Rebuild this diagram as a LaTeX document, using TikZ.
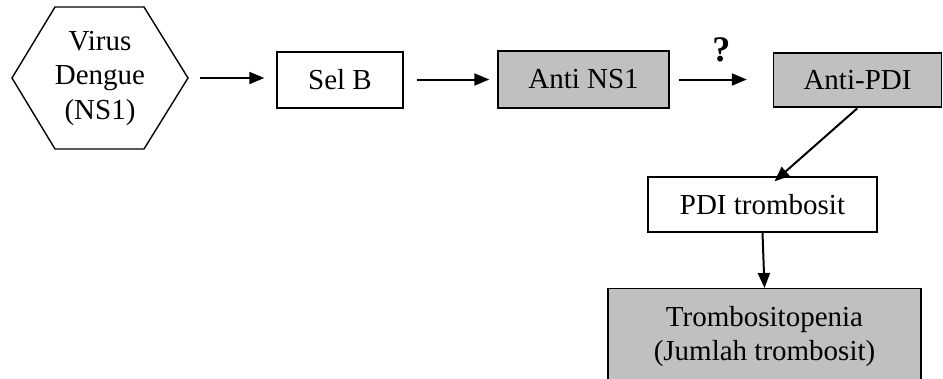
\documentclass[tikz,border=0pt]{standalone}
\usepackage{fontspec}
\setmainfont{Liberation Serif}
\usetikzlibrary{arrows.meta}
\definecolor{boxgray}{RGB}{192,192,192}
\begin{document}
\begin{tikzpicture}[x=1pt,y=-1pt,
  txt/.style={font=\fontsize{29}{34.5}\selectfont, align=center, inner sep=0pt},
  plainbox/.style={txt, draw, line width=1.4pt, fill=white},
  graybox/.style={plainbox, fill=boxgray},
  arr/.style={line width=2pt, -{Triangle[length=15pt,width=12pt]}}]
\useasboundingbox (0,0) rectangle (943,378);
% hexagon
\coordinate (hL) at (12,78);
\coordinate (hTL) at (55,7);
\coordinate (hTR) at (144,7);
\coordinate (hR) at (188,78);
\coordinate (hBR) at (144,149);
\coordinate (hBL) at (55,149);
\draw[line width=1.4pt, line join=miter] (hL) -- (hTL) -- (hTR) -- (hR) -- (hBR) -- (hBL) -- cycle;
\node[txt] (hex) at (100,78) {Virus\\Dengue\\(NS1)};
% boxes
\node[plainbox, minimum width=126pt, minimum height=56pt] (selb) at (340,80) {Sel B};
\node[graybox, minimum width=171pt, minimum height=57pt] (ans) at (583.5,79.5) {Anti NS1};
\node[graybox, minimum width=168pt, minimum height=54pt] (apdi) at (857.5,80) {Anti-PDI};
\node[plainbox, minimum width=229pt, minimum height=55pt] (pdi) at (762.5,204.5) {PDI trombosit};
\node[graybox, anchor=north, minimum width=313pt, minimum height=96pt] (tromb) at (764.5,288) {Trombositopenia\\(Jumlah trombosit)};
% connectors
\draw[arr, shorten <=12pt, shorten >=12pt] (hR) -- (hR -| selb.west);
\draw[arr, shorten <=13pt, shorten >=8pt] (selb.east |- ans.west) -- (ans.west);
\draw[arr, shorten <=9pt, shorten >=26pt] (ans.east) -- (ans.east -| apdi.west)
  node[midway, above=16pt, font=\fontsize{36}{38}\selectfont\bfseries, inner sep=0pt] (q) {?};
\coordinate (a4s) at ([xshift=0.5pt]apdi.south);
\coordinate (a4e) at ([xshift=12pt,yshift=-5pt]pdi.north);
\draw[arr, shorten <=1pt] (a4s) -- (a4e);
\draw[arr] (pdi.south) -- (tromb.north);
\end{tikzpicture}
\end{document}
